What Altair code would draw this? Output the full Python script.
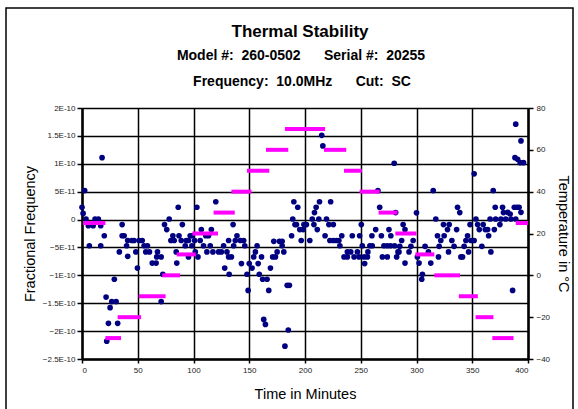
import altair as alt
import pandas as pd

# ---- frequency samples (time in minutes, fractional frequency in units of 1E-11)
time_min = [0, 1, 2.4, 3.6, 5.7, 6.6, 10, 11.7, 14.7, 16.8, 16.8, 18, 20, 21.6, 22.2, 23.7, 25.2, 26.7, 29, 30.6,
            32, 33.5, 36, 36, 37.8, 40, 41, 41, 44.7, 46.7, 48.3, 49.7, 51.2, 54, 55.7, 57.2, 58.7, 60.5, 63, 66.5,
            67, 67.7, 71, 71, 72.5, 74, 76, 78.2, 79.7, 81.5, 82.7, 84.5, 85, 86.3, 87, 89, 90, 93.5, 95.5, 97,
            92.6, 95.5, 98.6, 98.6, 101, 101.6, 103, 104, 106, 107, 109, 111, 112, 113.5, 115, 116, 117.4, 120,
            122.5, 125, 127, 128, 130, 131.5, 131.5, 132, 134, 135.5, 136, 137.5, 139, 142, 143, 145, 146, 148,
            149, 150, 152.5, 154, 155.5, 157, 158, 159, 161, 162, 163, 164.5, 166, 167.5, 169, 171, 172, 173.5,
            175, 177, 179.5, 179.5, 181, 182, 184, 185, 186, 188, 189, 190, 191,
            192.4, 193.5, 195.3, 196.6, 198.3, 199, 201.3, 204.3, 206.5, 208, 208.5, 210, 211, 212.4, 213, 215,
            216, 218, 219.3, 221.4, 222.3, 223, 225.4, 225.4, 228.3, 230.4, 231.3, 233, 235, 238, 238, 241, 242.4,
            244, 247, 248.4, 249, 250.5, 251.4, 253, 253.5, 256, 256.4, 258.2, 260, 260.3, 263.4, 265.4, 267,
            268.5, 269.4, 270.8, 273.8, 273.8, 275.3, 276.8, 277, 280, 280.4, 281.3, 282.2, 283.4,
            284.3, 285, 286.7, 288, 289.7, 289.7, 293.3, 295, 297, 300, 300.8, 302.3, 304.7, 305.3, 307.7, 310.7,
            312.8, 315, 317.3, 318.8, 319.7, 320.3, 321.8, 324.2, 324.8, 327.8, 328.7, 329.3, 331.7, 333.7, 336,
            336.8, 338.8, 339.8, 341.3, 342.7, 344.3, 345.8, 346.7, 348, 348.8, 351.7, 351.7, 353.3, 354.8, 356.3,
            358.6, 359.8, 361.7, 363.8, 364.7, 366, 366.7, 368.8, 369.8, 370.6, 371, 374.8, 375.7, 377.2, 378,
            380, 381.8, 384, 384.7, 386.2, 387.7, 388.3, 389, 389, 390, 390.7, 392, 393, 393.7, 393.7, 396]
freq_e11 = [2.2, 1.1, 5.2, 0.1, -1.1, -4.7, -1.1, 0.1, 0.1, -1.1, -4.7, 11.1, -2.9, -13.9, -21.8, -18.6, -15.8, -14.7, -10.7, -14.7,
            -18.6, -5.8, -0.9, -2.9, -2.9, -4.7, -3.75, -6.6, -3.75, -3.75, -5.8, -8.7, -3.75, -3.75, -4.7, -5.8, -4.7, -5.8, -7.8, -7.8,
            -6.7, -5.8, -6.7, -14.7, -9.8, -0.9, -1.8, 0.1, -3.75, -2.9, -3.75, -5.8, -7.8, 2.2, -2.9, -3.75, -0.9, -3.75, -6.7, -2.9,
            -4.7, -3.75, -2.9, -4.7, -3.75, -5.8, 2.2, -6.7, -3.75, -1.8, -4.7, -2.9, -5.8, -2.9, -4.7, -1.8, -5.8, 3.2,
            -5.8, -5.8, -4.7, -8.7, -5.8, -3.75, -6.7, -9.8, -6.7, -0.9, -4.7, -3.75, -2.9, -3.75, -7.9, -3.75, -4.7, -9.8,
            -12.7, -7.9, -8.7, -6.7, -5.8, -4.7, -7.9, -9.8, -6.7, -10.7, -17.9, -18.8, -10.7, -12.7, -8.7, -6.7, -3.9, -6.7,
            -5.8, -3.9, -3.9, -4.7, -5.8, -22.7, -11.8, -19.8, -11.8, -2.9, 0.1, 3.2, -0.9,
            -0.9, 2.2, -1.8, -3.75, -1.8, -0.9, -0.9, -3.75, 0.1, -0.9, 1.25, 2.2, -1.8, 0.1, 3.2, 15.1,
            13.2, -2.9, 0.1, -0.9, -3.75, 3.2, -0.9, -3.75, -3.75, -3.75, -4.7, -2.9, -6.7, -5.8, -6.7, -5.8, -2.9,
            -6.7, -5.8, -6.7, -2.9, -0.9, -4.7, -6.7, -7.9, -6.7, -5.8, -4.7, -2.9, -4.7, -1.8, 5.2, 2.2,
            -2.9, -6.7, -4.7, -4.7, -6.7, -1.8, -4.7, -2.9, 10.1, -4.7, 1.25, -6.7, -5.8,
            -5.8, -4.8, -3.75, -0.9, -1.8, -7.8, -5.8, -4.8, -3.75, 1.2, -6.7, -7.8, -10.7, -9.8, -4.8, -5.8,
            -7.8, 5.2, 0.1, -2.9, -6.7, -4.8, -3.75, -0.9, -2.9, -1.8, -5.8, -0.9, -3.75, -4.8, -1.8,
            2.2, 1.25, -6.7, -6.7, -4.8, -3.75, -2.9, -5.8, -0.9, -3.75, 8.2, -3.75, 0.1, -0.9, -1.8,
            -4.8, -0.9, -1.8, -1.8, -2.9, 0.1, -5.8, 5.2, -1.8, 2.2, 0.1, -0.9, 0.1, 2.2, 1.25,
            0.1, 1.3, 1.0, 0.1, -12.7, 2.2, 11.1, 17.1, 0.1, 2.2, 10.8, 2.2, 10.2, 14.1, 1.3, 10.2]

# ---- temperature plateaus (start minute, end minute, degrees C)
seg_start = [1, 21, 32, 51, 72, 85, 99, 118, 134, 148, 165, 182, 217, 235, 249, 266, 281, 299, 316, 338, 353, 368, 389]
seg_end = [21, 35, 53, 75, 88, 102, 122, 137, 152, 168, 185, 218, 237, 251, 267, 283, 300, 316, 339, 355, 369, 387, 400]
seg_temp = [25, -30, -20, -10, 0, 10, 20, 30, 40, 50, 60, 70, 60, 50, 40, 30, 20, 10, 0, -10, -20, -30, 25]

x_ticks = [0, 50, 100, 150, 200, 250, 300, 350, 400]
freq_ticks_e11 = [20, 15, 10, 5, 0, -5, -10, -15, -20, -25]
temp_ticks = [80, 60, 40, 20, 0, -20, -40]

NB = "\u00a0"
title_lines = ["Thermal Stability",
               "Model #:" + NB * 2 + "260-0502" + NB * 6 + "Serial #:" + NB * 2 + "20255",
               "Frequency:" + NB * 2 + "10.0MHz" + NB * 6 + "Cut:" + NB * 2 + "SC"]

FONT = "Liberation Sans"
W, H = 446, 251

df_f = pd.DataFrame({"t": time_min, "f": [v * 1e-11 for v in freq_e11]})
df_t = pd.DataFrame({"t0": seg_start, "t1": seg_end, "temp": seg_temp})
one = pd.DataFrame({"a": [0]})

x_scale = alt.Scale(domain=[0, 400], nice=False, zero=False)
x_axis = alt.Axis(values=x_ticks, title="Time in Minutes", grid=True, gridColor="black", gridWidth=1.5,
                  tickSize=4, tickColor="black", tickWidth=1.5, labelFontSize=8, labelPadding=3,
                  labelColor="#222", labelFont=FONT, domainColor="black", domainWidth=2.5,
                  titleFont=FONT, titleFontSize=14.5, titleFontWeight="normal", titleColor="black",
                  titleY=39, titleBaseline="alphabetic")

points = alt.Chart(df_f).mark_circle(size=32, color="#000080", opacity=1).encode(
    x=alt.X("t:Q", scale=x_scale, axis=x_axis, title="Time in Minutes"),
    y=alt.Y("f:Q", scale=alt.Scale(domain=[-2.5e-10, 2e-10], nice=False, zero=False),
            axis=alt.Axis(values=[v * 1e-11 for v in freq_ticks_e11],
                          labelExpr="abs(datum.value) < 1e-15 ? '0' : upper(format(datum.value, '~e'))",
                          title="Fractional Frequency", grid=True, gridColor="black", gridWidth=1.5,
                          tickSize=5, tickColor="black", tickWidth=1.5, labelFontSize=8, labelPadding=2,
                          labelColor="#222", labelFont=FONT, domainColor="black", domainWidth=2.5,
                          titleFont=FONT, titleFontSize=14.5, titleFontWeight="normal", titleColor="black",
                          titleX=-52, titleY=H / 2, titleAngle=270, titleAlign="center",
                          titleBaseline="middle")),
)

temps = alt.Chart(df_t).mark_rule(color="#FF00FF", strokeWidth=4).encode(
    x=alt.X("t0:Q", scale=x_scale, axis=x_axis, title="Time in Minutes"),
    x2="t1:Q",
    y=alt.Y("temp:Q", scale=alt.Scale(domain=[-40, 80], nice=False, zero=False),
            axis=alt.Axis(orient="right", values=temp_ticks, title="Temperature in °C", grid=False,
                          tickSize=5, tickColor="black", tickWidth=1.5, labelFontSize=8, labelPadding=3,
                          labelColor="#222", labelFont=FONT, domainColor="black", domainWidth=2.5,
                          titleFont=FONT, titleFontSize=14.5, titleFontWeight="normal", titleColor="black",
                          titleX=34, titleY=H / 2, titleAngle=90, titleAlign="center",
                          titleBaseline="middle")),
)

frame = alt.Chart(one).mark_rect(fill=None, stroke="black", strokeWidth=1.5).encode(
    x=alt.value(-76), x2=alt.value(491), y=alt.value(-100), y2=alt.value(320)
)

title_main = alt.Chart(one).mark_text(font=FONT, fontSize=17, fontWeight="bold", color="black",
                                      align="center", baseline="alphabetic").encode(
    x=alt.value(218), y=alt.value(-71), text=alt.value(title_lines[0]))
title_sub1 = alt.Chart(one).mark_text(font=FONT, fontSize=14, fontWeight="bold", color="black",
                                      align="center", baseline="alphabetic").encode(
    x=alt.value(219), y=alt.value(-48), text=alt.value(title_lines[1]))
title_sub2 = alt.Chart(one).mark_text(font=FONT, fontSize=14, fontWeight="bold", color="black",
                                      align="center", baseline="alphabetic").encode(
    x=alt.value(220), y=alt.value(-22), text=alt.value(title_lines[2]))

chart = alt.layer(frame, title_main, title_sub1, title_sub2, points, temps).resolve_scale(
    y="independent"
).properties(
    width=W, height=H,
    autosize=alt.AutoSizeParams(type="none"),
    padding={"left": 82, "top": 108, "right": 50, "bottom": 50},
).configure_view(stroke="black", strokeWidth=2.5).configure(background="white")

chart.save("out.html", embed_options={"renderer": "svg", "actions": False})
